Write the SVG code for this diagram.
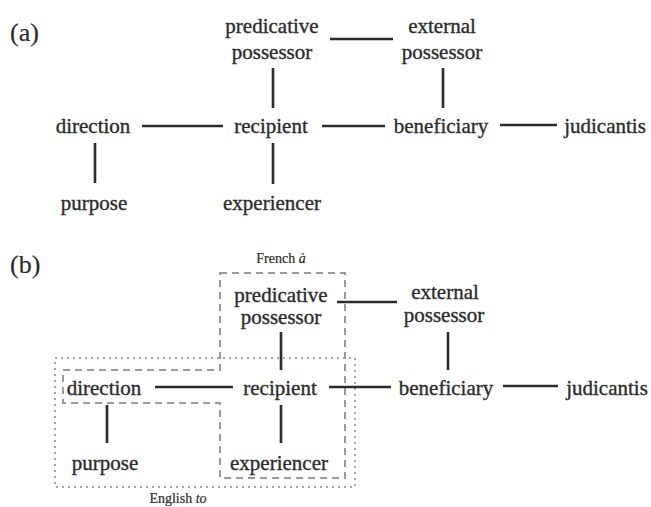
<svg xmlns="http://www.w3.org/2000/svg" width="651" height="507" viewBox="0 0 651 507">
<style>
text{font-family:"Liberation Serif","Times New Roman",serif;fill:#2b2b2b;stroke:#2b2b2b;stroke-width:0.35;}
.n{font-size:21px;text-anchor:middle;}
.lab{font-size:26px;stroke-width:0.2;}
.s{font-size:14px;text-anchor:middle;stroke-width:0.2;}
.c line{stroke:#2b2b2b;stroke-width:2.6;}
.fr{fill:none;stroke:#9a9a9a;stroke-width:2;stroke-dasharray:7 5;}
.en{fill:none;stroke:#a8a8a8;stroke-width:2;stroke-dasharray:2 4;}
</style>
<rect width="651" height="507" fill="#fff"/>
<text class="lab" x="10" y="41">(a)</text>
<g class="c" id="conn-a">
<line x1="330" y1="39" x2="393" y2="39"/>
<line x1="273" y1="68" x2="273" y2="108"/>
<line x1="443" y1="68" x2="443" y2="108"/>
<line x1="142" y1="126" x2="223" y2="126"/>
<line x1="322" y1="126" x2="385" y2="126"/>
<line x1="500" y1="125" x2="557" y2="125"/>
<line x1="95" y1="143" x2="95" y2="183"/>
<line x1="273" y1="143" x2="273" y2="184"/>
</g>
<g id="a-predpos"><text class="n" x="272" y="33">predicative</text><text class="n" x="272" y="59">possessor</text></g>
<g id="a-extpos"><text class="n" x="442" y="33">external</text><text class="n" x="442" y="59">possessor</text></g>
<g id="a-direction"><text class="n" x="93" y="133">direction</text></g>
<g id="a-recipient"><text class="n" x="271" y="133">recipient</text></g>
<g id="a-beneficiary"><text class="n" x="441" y="133">beneficiary</text></g>
<g id="a-judicantis"><text class="n" x="605" y="133">judicantis</text></g>
<g id="a-purpose"><text class="n" x="94" y="210">purpose</text></g>
<g id="a-experiencer"><text class="n" x="272" y="210">experiencer</text></g>

<text class="lab" x="10" y="273">(b)</text>
<g id="region-english"><rect class="en" x="55" y="358" width="300" height="129"/><text class="s" x="178" y="503">English <tspan font-style="italic">to</tspan></text></g>
<g id="region-french"><path class="fr" d="M220,273 H345 V478 H220 V403 H63 V370 H220 Z"/><text class="s" x="281" y="263">French <tspan font-style="italic">à</tspan></text></g>
<g class="c" id="conn-b">
<line x1="337" y1="302" x2="397" y2="302"/>
<line x1="281" y1="332" x2="281" y2="370"/>
<line x1="448" y1="332" x2="448" y2="370"/>
<line x1="155" y1="387" x2="233" y2="387"/>
<line x1="329" y1="387" x2="391" y2="387"/>
<line x1="503" y1="386" x2="558" y2="386"/>
<line x1="107" y1="405" x2="107" y2="443"/>
<line x1="281" y1="405" x2="281" y2="443"/>
</g>
<g id="b-predpos"><text class="n" x="281" y="302">predicative</text><text class="n" x="281" y="324">possessor</text></g>
<g id="b-extpos"><text class="n" x="445" y="299">external</text><text class="n" x="444" y="322">possessor</text></g>
<g id="b-direction"><text class="n" x="104" y="395">direction</text></g>
<g id="b-recipient"><text class="n" x="280" y="395">recipient</text></g>
<g id="b-beneficiary"><text class="n" x="446" y="395">beneficiary</text></g>
<g id="b-judicantis"><text class="n" x="607" y="395">judicantis</text></g>
<g id="b-purpose"><text class="n" x="105" y="470">purpose</text></g>
<g id="b-experiencer"><text class="n" x="279" y="470">experiencer</text></g>
</svg>
